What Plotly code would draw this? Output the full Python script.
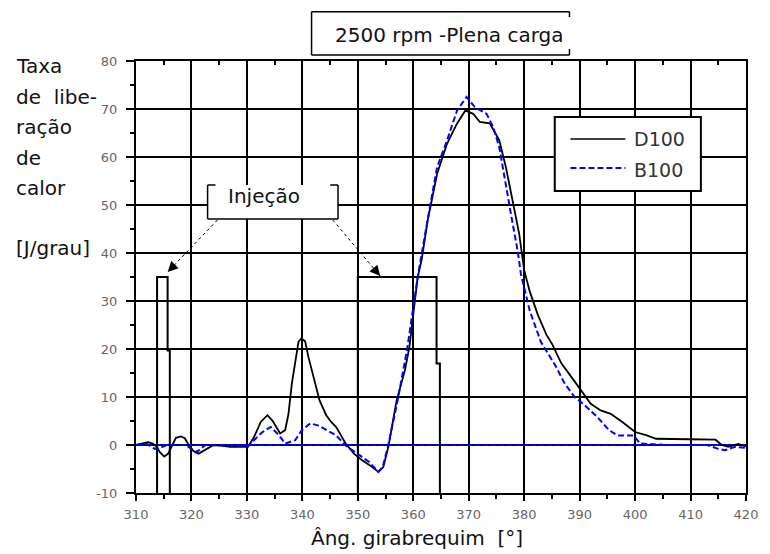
import plotly.graph_objects as go

# ---- data ----
d100_x = [310.0, 311.0, 312.2, 313.0, 313.6, 314.3, 315.1, 315.8, 316.5, 317.2, 318.1, 318.8, 319.5,
          320.3, 321.3, 322.2, 323.2, 324.0, 325.0, 327.0, 330.2, 331.3, 332.5, 333.7, 334.6, 335.3,
          336.0, 336.9, 337.5, 338.1, 338.7, 339.3, 339.8, 340.5, 341.1, 342.2, 343.1, 344.3, 345.2,
          346.1, 347.0, 347.8, 349.3, 350.8, 352.6, 353.7, 354.6, 355.5, 357.0, 358.5, 359.3, 359.7,
          360.2, 360.8, 361.5, 362.6, 364.3, 366.1, 367.9, 369.4, 370.8, 372.0, 373.8, 375.5, 376.7,
          377.9, 379.1, 380.0, 381.0, 382.5, 384.0, 385.0, 386.7, 388.5, 390.3, 392.0, 393.8, 395.6,
          397.7, 400.0, 402.1, 403.8, 409.7, 414.5, 415.6, 416.8, 418.6, 420.0]
d100_y = [0.0, 0.3, 0.6, 0.3, -0.2, -1.5, -2.4, -1.8, 0.0, 1.5, 1.8, 1.4, 0.0,
          -1.2, -1.8, -1.2, -0.4, 0.0, -0.1, -0.4, -0.4, 1.7, 4.8, 6.2, 5.1, 3.8,
          2.4, 3.1, 6.5, 12.8, 17.6, 21.5, 22.2, 21.6, 18.3, 13.5, 9.3, 6.2, 4.8,
          3.75, 2.0, 0.3, -1.8, -3.2, -4.6, -5.6, -4.6, -0.4, 9.3, 15.6, 20.4, 24.6,
          30.1, 35.0, 38.5, 46.8, 56.5, 62.8, 67.0, 69.7, 69.0, 67.3, 67.0, 63.5, 57.9,
          51.0, 44.0, 36.4, 32.0, 27.0, 23.0, 21.1, 17.0, 14.2, 11.4, 8.6, 7.2, 6.5,
          4.8, 2.7, 2.0, 1.3, 1.2, 1.1, 0.0, -0.4, 0.2, -0.3]

b100_x = [310.0, 312.0, 313.4, 314.5, 315.5, 319.0, 320.0, 320.7, 321.5, 322.5, 330.2, 331.3, 332.8,
          334.3, 335.8, 336.9, 338.7, 339.9, 341.4, 342.8, 344.3, 346.1, 347.8, 349.6, 352.0, 353.7,
          354.5, 355.5, 357.3, 358.9, 360.0, 360.8, 362.6, 364.3, 366.1, 367.9, 369.6, 371.1, 373.2,
          374.4, 375.5, 376.7, 377.6, 378.8, 379.4, 381.0, 383.0, 385.6, 387.3, 389.1, 390.9, 393.2,
          395.3, 396.8, 399.7, 400.9, 405.7, 410.9, 413.0, 415.0, 416.2, 418.0, 420.0]
b100_y = [0.0, 0.2, -0.8, -0.5, 0.0, 0.0, -0.8, -1.5, -1.0, 0.0, -0.2, 1.0, 2.7,
          3.75, 2.0, 0.3, 1.0, 3.1, 4.5, 4.1, 3.1, 2.0, -0.1, -1.5, -3.5, -5.6,
          -4.5, 0.0, 10.0, 20.0, 28.5, 35.0, 47.0, 57.9, 63.5, 69.7, 72.5, 70.4, 69.0,
          66.3, 62.1, 53.8, 48.2, 40.6, 35.7, 28.0, 21.5, 16.6, 12.8, 10.0, 8.3, 5.8,
          3.1, 2.0, 2.0, 0.3, 0.0, 0.0, 0.0, -0.8, -1.1, -0.4, -0.6]

# injection signal traces
inj1_x = [313.8, 313.8, 315.7, 315.7, 316.1, 316.1]
inj1_y = [-10, 35.0, 35.0, 19.7, 19.7, -10]
inj2_x = [350.0, 350.0, 364.2, 364.2, 364.8, 364.8]
inj2_y = [-10, 35.0, 35.0, 17.0, 17.0, -10]

zero_x = [310, 420]
zero_y = [0, 0]

x_ticks = [310, 320, 330, 340, 350, 360, 370, 380, 390, 400, 410, 420]
y_ticks = [-10, 0, 10, 20, 30, 40, 50, 60, 70, 80]
top_minor = [315, 325, 335, 345, 355, 365, 375, 385, 395, 405, 415]

series_names = ["D100", "B100"]

FONT = "DejaVu Sans"
W, H = 770, 554
PL, PR, PT, PB = 136, 758, 61, 493


def px(x):
    return (x - PL) / (PR - PL)


def py(y):
    return (PB - y) / (PB - PT)


fig = go.Figure()

fig.add_trace(go.Scatter(x=zero_x, y=zero_y, mode="lines",
                         line=dict(color="#0000ff", width=2), hoverinfo="skip"))
fig.add_trace(go.Scatter(x=zero_x, y=zero_y, mode="lines",
                         line=dict(color="#000000", width=1.2, dash="3px,5px"), hoverinfo="skip"))
for ix, iy in ((inj1_x, inj1_y), (inj2_x, inj2_y)):
    fig.add_trace(go.Scatter(x=ix, y=iy, mode="lines",
                             line=dict(color="#000000", width=2), hoverinfo="skip"))
fig.add_trace(go.Scatter(x=d100_x, y=d100_y, mode="lines", name=series_names[0],
                         line=dict(color="#000000", width=1.8)))
fig.add_trace(go.Scatter(x=b100_x, y=b100_y, mode="lines", name=series_names[1],
                         line=dict(color="#0000ff", width=2, dash="6px,3px")))
# helper trace for top axis ticks
fig.add_trace(go.Scatter(x=[None], y=[None], xaxis="x2", mode="lines", hoverinfo="skip"))

tickfont = dict(family=FONT, size=13, color="#666666")

fig.update_layout(
    width=W, height=H,
    margin=dict(l=PL, r=W - PR, t=PT, b=H - PB),
    paper_bgcolor="white", plot_bgcolor="white",
    showlegend=False,
    font=dict(family=FONT),
    xaxis=dict(range=[310, 420], tickvals=x_ticks, ticktext=[str(v) for v in x_ticks],
               showgrid=True, gridcolor="#000000", gridwidth=2,
               showline=True, linecolor="#000000", linewidth=2, mirror=True,
               ticks="outside", ticklen=6, tickwidth=1.5, tickcolor="#000000",
               minor=dict(dtick=5, tick0=305, ticks="outside", ticklen=4, tickcolor="#000000", showgrid=False),
               tickfont=tickfont, zeroline=False, ticklabelstandoff=2),
    xaxis2=dict(range=[310, 420], overlaying="x", side="top", tickvals=top_minor,
                showticklabels=False, ticks="inside", ticklen=4, tickwidth=1.5, tickcolor="#000000",
                showgrid=False, showline=False, zeroline=False),
    yaxis=dict(range=[-10, 80], tickvals=y_ticks, ticktext=[str(v) for v in y_ticks],
               showgrid=True, gridcolor="#000000", gridwidth=2,
               showline=True, linecolor="#000000", linewidth=2, mirror=True,
               ticks="outside", ticklen=8, tickwidth=1.5, tickcolor="#000000",
               minor=dict(dtick=5, tick0=-5, ticks="outside", ticklen=4, tickcolor="#000000", showgrid=False),
               tickfont=tickfont, zeroline=False, ticklabelstandoff=6),
)

shapes = []
ann = []


def seg(x0, y0, x1, y1, width=1.5, color="#000000", dash="solid"):
    shapes.append(dict(type="line", xref="paper", yref="paper",
                       x0=px(x0), y0=py(y0), x1=px(x1), y1=py(y1),
                       line=dict(color=color, width=width, dash=dash), layer="above"))


def text(x, y, s, size=20, color="#111111", xanchor="left"):
    ann.append(dict(xref="paper", yref="paper", x=px(x), y=py(y), text=s, showarrow=False,
                    xanchor=xanchor, yanchor="middle",
                    font=dict(family=FONT, size=size, color=color)))


# title box
seg(315, 11.7, 578, 11.7)
seg(315, 11.7, 315, 55)
seg(315, 55, 578, 55)
seg(578, 11.7, 578, 17)
seg(578, 49, 578, 55)
text(456, 35, "2500 rpm -Plena carga", xanchor="center")

# Injeção box
shapes.append(dict(type="rect", xref="paper", yref="paper", x0=px(209), y0=py(185), x1=px(342), y1=py(219),
                   fillcolor="white", line=dict(width=0), layer="above"))
seg(209, 185, 209, 219)
seg(209, 219, 342, 219)
seg(342, 185, 342, 219)
seg(209, 185, 217, 185)
seg(334, 185, 342, 185)
text(266.5, 196, "Injeção", xanchor="center")

# arrows (dotted shafts + heads)
for (tx, ty), (hx, hy) in (((219, 220), (168.3, 272)), ((336.7, 220), (385, 276))):
    seg(tx, ty, hx, hy, width=1, dash="dot")
    dx, dy = hx - tx, hy - ty
    ln = (dx * dx + dy * dy) ** 0.5
    ann.append(dict(xref="paper", yref="paper", x=px(hx), y=py(hy), text="", showarrow=True,
                    ax=-dx / ln * 10, ay=-dy / ln * 10, arrowhead=2, arrowsize=1.6, arrowwidth=1.3,
                    arrowcolor="#000000", standoff=0))

# legend
shapes.append(dict(type="rect", xref="paper", yref="paper", x0=px(563), y0=py(117), x1=px(712), y1=py(191),
                   fillcolor="white", line=dict(color="#000000", width=2), layer="above"))
seg(579, 139, 635, 139, width=1.5)
seg(579, 168, 635, 168, width=2, color="#0000ff", dash="6px,3px")
text(642, 139.5, series_names[0], size=19, color="#333333")
text(642, 169.5, series_names[1], size=19, color="#333333")

# y-axis title (stacked lines)
for yy, s in ((66, "Taxa"), (97, "de\u00a0\u00a0libe-"), (127, "ração"), (157.5, "de"), (188, "calor"),
              (248, "[J/grau]")):
    text(12, yy, s)

# x-axis title
text(312, 538, "Âng. girabrequim\u00a0\u00a0[°]")

fig.update_layout(shapes=shapes, annotations=ann)
fig.write_html("out.html")
